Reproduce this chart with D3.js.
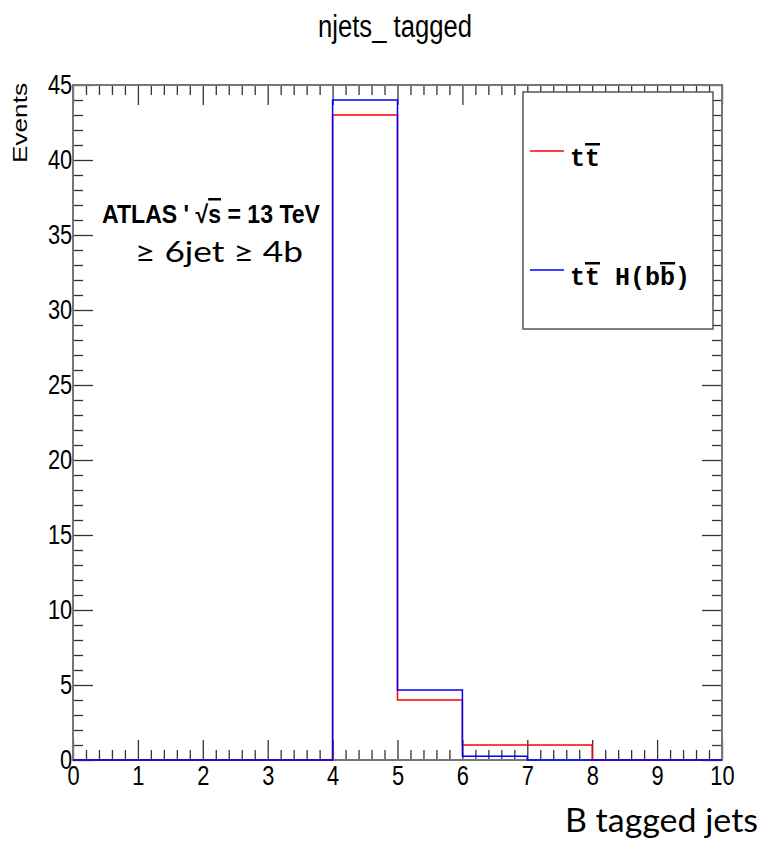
<!DOCTYPE html>
<html>
<head>
<meta charset="utf-8">
<script src="https://cdn.jsdelivr.net/npm/d3@7"></script>
<style>
  body { margin: 0; background: #fff; }
  .helv { font-family: "Liberation Sans", Arial, sans-serif; }
  .calib { font-family: Lato, "Open Sans", sans-serif; }
  .mono { font-family: "Liberation Mono", "Courier New", monospace; font-weight: bold; }
</style>
</head>
<body>
<div id="chart"></div>
<script>
// Data
const binEdges = [0, 1, 2, 3, 4, 5, 6, 7, 8, 9, 10];
const ttbar = [0, 0, 0, 0, 43, 4, 1, 1, 0, 0];
const ttH = [0, 0, 0, 0, 44, 4.67, 0.25, 0, 0, 0];
const yTickValues = [0, 5, 10, 15, 20, 25, 30, 35, 40, 45];
const seriesNames = ["ttbar", "ttH"];

const width = 763, height = 842;
const frame = { left: 73, right: 722, top: 85, bottom: 760 };

const svg = d3.select('#chart').append('svg')
    .attr('width', width)
    .attr('height', height);

svg.append('rect').attr('width', width).attr('height', height).attr('fill', '#fff');

const x = d3.scaleLinear()
    .domain([binEdges[0], binEdges[binEdges.length - 1]])
    .range([frame.left, frame.right]);

const y = d3.scaleLinear()
    .domain([0, 45])
    .range([frame.bottom, frame.top]);

// minor ticks: 5 per major division
const xMinor = d3.range(0, 50).map(i => i / 5).filter(v => v % 1 !== 0);
const yMinor = d3.range(0, 46).filter(v => v % 5 !== 0);

function styleAxis(g) {
    g.select('.domain').remove();
    g.selectAll('line').attr('stroke', '#333').attr('stroke-width', 1.3);
}

// condensed look of the ROOT labels
function styleLabels(g) {
    g.selectAll('text')
        .attr('font-size', 28)
        .attr('fill', '#000')
        .attr('font-family', '"Liberation Sans", Arial, sans-serif')
        .attr('transform', 'scale(0.78,1)');
}

// bottom
svg.append('g')
    .attr('transform', `translate(0,${frame.bottom})`)
    .call(d3.axisBottom(x).tickValues(xMinor).tickSizeInner(-10).tickSizeOuter(0).tickFormat(''))
    .call(styleAxis);
svg.append('g')
    .attr('transform', `translate(0,${frame.bottom})`)
    .call(d3.axisBottom(x).tickValues(binEdges).tickSizeInner(-20).tickSizeOuter(0).tickPadding(5))
    .call(styleAxis)
    .call(styleLabels);

// top
svg.append('g')
    .attr('transform', `translate(0,${frame.top})`)
    .call(d3.axisTop(x).tickValues(xMinor).tickSizeInner(-10).tickSizeOuter(0).tickFormat(''))
    .call(styleAxis);
svg.append('g')
    .attr('transform', `translate(0,${frame.top})`)
    .call(d3.axisTop(x).tickValues(binEdges).tickSizeInner(-20).tickSizeOuter(0).tickFormat(''))
    .call(styleAxis);

// left
svg.append('g')
    .attr('transform', `translate(${frame.left},0)`)
    .call(d3.axisLeft(y).tickValues(yMinor).tickSizeInner(-10).tickSizeOuter(0).tickFormat(''))
    .call(styleAxis);
svg.append('g')
    .attr('transform', `translate(${frame.left},0)`)
    .call(d3.axisLeft(y).tickValues(yTickValues).tickSizeInner(-20).tickSizeOuter(0).tickPadding(1))
    .call(styleAxis)
    .call(styleLabels);

// right
svg.append('g')
    .attr('transform', `translate(${frame.right},0)`)
    .call(d3.axisRight(y).tickValues(yMinor).tickSizeInner(-10).tickSizeOuter(0).tickFormat(''))
    .call(styleAxis);
svg.append('g')
    .attr('transform', `translate(${frame.right},0)`)
    .call(d3.axisRight(y).tickValues(yTickValues).tickSizeInner(-20).tickSizeOuter(0).tickFormat(''))
    .call(styleAxis);

// frame
svg.append('rect')
    .attr('x', frame.left).attr('y', frame.top)
    .attr('width', frame.right - frame.left).attr('height', frame.bottom - frame.top)
    .attr('fill', 'none').attr('stroke', '#777').attr('stroke-width', 2);

// histograms (step lines)
const stepLine = d3.line()
    .x(d => x(d[0]))
    .y(d => y(d[1]))
    .curve(d3.curveStepAfter);

function histPoints(vals) {
    const pts = vals.map((v, i) => [binEdges[i], v]);
    pts.push([binEdges[binEdges.length - 1], vals[vals.length - 1]]);
    return pts;
}

svg.append('path')
    .attr('d', stepLine(histPoints(ttbar)))
    .attr('fill', 'none').attr('stroke', '#ff0000').attr('stroke-width', 1.5);

svg.append('path')
    .attr('d', stepLine(histPoints(ttH)))
    .attr('fill', 'none').attr('stroke', '#0000ff').attr('stroke-width', 1.5);

// title
svg.append('text')
    .attr('class', 'helv')
    .attr('x', 395).attr('y', 37)
    .attr('text-anchor', 'middle')
    .attr('font-size', 31)
    .attr('textLength', 154).attr('lengthAdjust', 'spacingAndGlyphs')
    .text('njets_ tagged');

// y title
svg.append('text')
    .attr('class', 'helv')
    .attr('transform', 'translate(27,123) rotate(-90)')
    .attr('text-anchor', 'middle')
    .attr('font-size', 21)
    .attr('textLength', 80).attr('lengthAdjust', 'spacingAndGlyphs')
    .text('Events');

// x title
svg.append('text')
    .attr('class', 'calib')
    .attr('x', 565).attr('y', 832)
    .attr('font-size', 32)
    .attr('textLength', 193).attr('lengthAdjust', 'spacingAndGlyphs')
    .text('B tagged jets');

// ATLAS label
const atlas = svg.append('text')
    .attr('class', 'helv')
    .attr('x', 102).attr('y', 223)
    .attr('font-size', 25)
    .attr('font-weight', 'bold')
    .attr('textLength', 218).attr('lengthAdjust', 'spacingAndGlyphs');
atlas.append('tspan').text("ATLAS ' \u221A");
atlas.append('tspan').style('text-decoration', 'overline').text('s');
atlas.append('tspan').text(' = 13 TeV');

svg.append('text')
    .attr('class', 'calib')
    .attr('x', 135).attr('y', 262)
    .attr('font-size', 29)
    .attr('textLength', 168).attr('lengthAdjust', 'spacingAndGlyphs')
    .text('\u2265 6jet \u2265 4b');

// legend
const legend = svg.append('g');
legend.append('rect')
    .attr('x', 523).attr('y', 92).attr('width', 190).attr('height', 237)
    .attr('fill', '#fff').attr('stroke', '#555').attr('stroke-width', 1.5);

const legendColors = d3.scaleOrdinal().domain(seriesNames).range(['#ff0000', '#0000ff']);
const legendY = d3.scalePoint().domain(seriesNames).range([151, 270]);

seriesNames.forEach(name => {
    const ly = legendY(name);
    legend.append('line')
        .attr('x1', 530).attr('x2', 564)
        .attr('y1', ly).attr('y2', ly)
        .attr('stroke', legendColors(name)).attr('stroke-width', 1.5);
    const t = legend.append('text')
        .attr('class', 'mono')
        .attr('x', 570).attr('y', ly + 15)
        .attr('font-size', 25);
    t.append('tspan').text('t');
    t.append('tspan').style('text-decoration', 'overline').text('t');
    if (name === 'ttH') {
        t.append('tspan').text(' H(b');
        t.append('tspan').style('text-decoration', 'overline').text('b');
        t.append('tspan').text(')');
    }
});
</script>
</body>
</html>
